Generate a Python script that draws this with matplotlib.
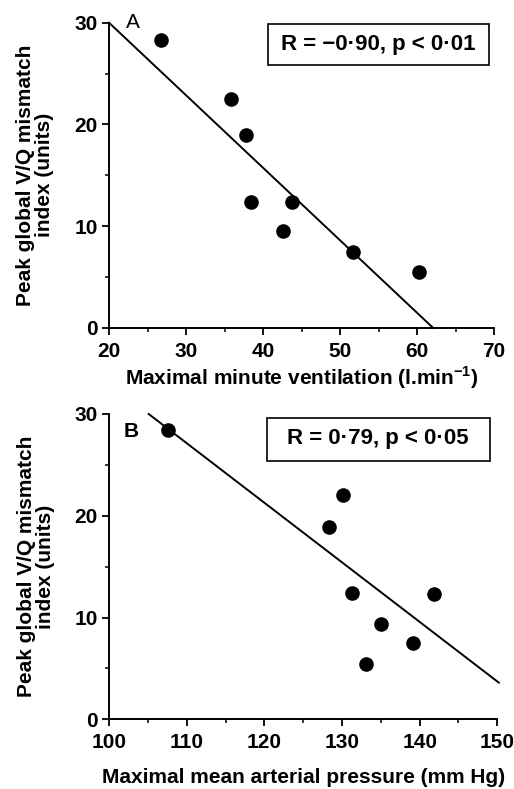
import numpy as np
import matplotlib
matplotlib.use("Agg")
import matplotlib.pyplot as plt
from matplotlib.patches import Rectangle
from matplotlib.ticker import MultipleLocator

plt.rcParams['font.family'] = ['Liberation Sans', 'DejaVu Sans']
plt.rcParams['font.weight'] = 'bold'
plt.rcParams['mathtext.fontset'] = 'custom'
plt.rcParams['mathtext.rm'] = 'Liberation Sans:bold'
plt.rcParams['mathtext.bf'] = 'Liberation Sans:bold'

# panel A: ventilation vs mismatch index
vent_x = [26.7, 35.8, 37.8, 38.5, 43.8, 42.6, 51.7, 60.3]
vent_y = [28.3, 22.5, 19.0, 12.4, 12.4, 9.5, 7.5, 5.5]
vent_fit_x = [20.0, 62.1]
vent_fit_y = [30.0, 0.0]

# panel B: arterial pressure vs mismatch index
map_x = [107.6, 130.1, 128.3, 131.3, 141.9, 135.0, 133.1, 139.1]
map_y = [28.4, 22.0, 18.9, 12.4, 12.3, 9.4, 5.4, 7.5]
map_fit_x = [105.1, 150.2]
map_fit_y = [30.0, 3.6]

ylabel = "Peak global V/Q mismatch\nindex (units)"
fs = 15


def style_axes(ax, xlim, xmajor):
    ax.set_xlim(*xlim)
    ax.set_ylim(0, 30)
    ax.xaxis.set_major_locator(MultipleLocator(xmajor))
    ax.xaxis.set_minor_locator(MultipleLocator(xmajor / 2))
    ax.yaxis.set_major_locator(MultipleLocator(10))
    ax.yaxis.set_minor_locator(MultipleLocator(5))
    for s in ['top', 'right']:
        ax.spines[s].set_visible(False)
    for s in ['left', 'bottom']:
        ax.spines[s].set_linewidth(1.4)
    ax.tick_params(which='major', direction='out', length=5, width=1.3,
                   labelsize=fs)
    ax.tick_params(which='minor', direction='out', length=3, width=1.1)
    ax.tick_params(axis='x', pad=5)
    ax.tick_params(axis='y', pad=3)
    for lab in ax.get_xticklabels() + ax.get_yticklabels():
        lab.set_fontweight('bold')


fig = plt.figure(figsize=(5.14, 7.89), dpi=100)

axA = fig.add_axes([0.2121, 0.5843, 0.749, 0.3869])
axA.plot(vent_fit_x, vent_fit_y, color='black', lw=1.4, clip_on=False)
axA.scatter(vent_x, vent_y, s=90, color='black', zorder=5, clip_on=False)
style_axes(axA, (20, 70), 10)
axA.add_patch(Rectangle((0.413, 0.861), 0.574, 0.135, transform=axA.transAxes,
                        fill=False, edgecolor='black', lw=1.2, clip_on=False))
axA.text(0.70, 0.9286, "R = \u22120\u00b790, p < 0\u00b701", transform=axA.transAxes,
         ha='center', va='center', fontsize=16, fontweight='bold')
axA.text(0.062, 1.0, "A", transform=axA.transAxes, ha='center', va='center',
         fontsize=fs, fontweight='normal')
axA.text(-0.191, 0.5, ylabel, transform=axA.transAxes, rotation=90,
         ha='center', va='center', fontsize=fs, multialignment='center',
         linespacing=1.0)
axA.text(0.5, -0.1638, r"Maximal minute ventilation (l.min$^{-1}$)",
         transform=axA.transAxes, ha='center', va='center', fontsize=fs)

axB = fig.add_axes([0.2121, 0.08834, 0.7554, 0.3870])
axB.plot(map_fit_x, map_fit_y, color='black', lw=1.4, clip_on=False)
axB.scatter(map_x, map_y, s=90, color='black', zorder=5, clip_on=False)
style_axes(axB, (100, 150), 10)
axB.add_patch(Rectangle((0.406, 0.846), 0.575, 0.141, transform=axB.transAxes,
                        fill=False, edgecolor='black', lw=1.2, clip_on=False))
axB.text(0.693, 0.918, "R = 0\u00b779, p < 0\u00b705", transform=axB.transAxes,
         ha='center', va='center', fontsize=16, fontweight='bold')
axB.text(0.058, 0.942, "B", transform=axB.transAxes, ha='center', va='center',
         fontsize=fs, fontweight='bold')
axB.text(-0.189, 0.5, ylabel, transform=axB.transAxes, rotation=90,
         ha='center', va='center', fontsize=fs, multialignment='center',
         linespacing=1.0)
axB.text(0.5, -0.189, "Maximal mean arterial pressure (mm Hg)",
         transform=axB.transAxes, ha='center', va='center', fontsize=fs)

fig.savefig("out.png", dpi=100)
